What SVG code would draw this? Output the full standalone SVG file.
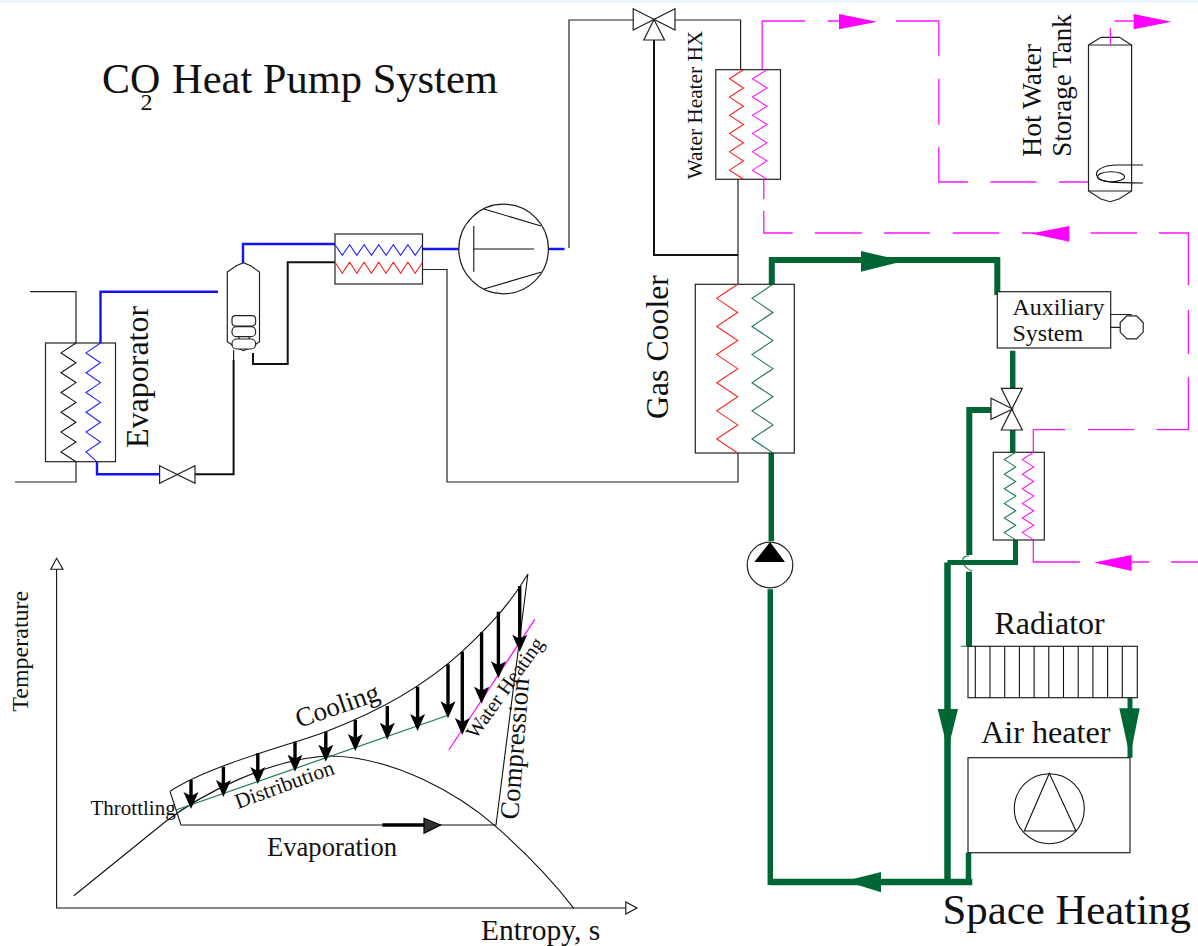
<svg xmlns="http://www.w3.org/2000/svg" width="1198" height="946" viewBox="0 0 1198 946">
<style>
text{font-family:"Liberation Serif","Times New Roman",serif;fill:#111}
.l{fill:none;stroke:#222;stroke-width:1.2}
.s{fill:#fff;stroke:#222;stroke-width:1.2}
.k{fill:none;stroke:#111;stroke-width:2}
.b{fill:none;stroke:#1414f5;stroke-width:2.4}
.bz{fill:none;stroke:#2222ff;stroke-width:1.1}
.r{fill:none;stroke:#ff2222;stroke-width:1.1}
.gz{fill:none;stroke:#1a7a4c;stroke-width:1.1}
.m{fill:none;stroke:#ff14ff;stroke-width:1.3}
.mf{fill:#ff00ff;stroke:none}
.g{fill:none;stroke:#006633;stroke-width:6}
.gf{fill:#006633;stroke:none}
.t{fill:none;stroke:#111;stroke-width:1.1}
.da{fill:none;stroke:#000;stroke-width:3.4;marker-end:url(#head)}
</style>
<defs>
<marker id="head" markerUnits="userSpaceOnUse" markerWidth="20" markerHeight="18" refX="8" refY="8" orient="auto">
<polygon points="17,8 0,0.5 4,8 0,15.5" fill="#000"/>
</marker>
</defs>
<rect width="1198" height="946" fill="#fff"/>
<rect width="1198" height="3" fill="#eef4fc"/>

<g id="title"><text x="102" y="93.3" font-size="42">CO</text><text x="140.5" y="110" font-size="24">2</text><text x="172" y="93.3" font-size="42.500">Heat Pump System</text></g>

<g id="connectors">
<path class="l" d="M30 291.7H76V343M15 482H76V461.7"/>
<path class="b" d="M100.500 343V291.700H218"/>
<path class="b" d="M97 460V474.300H160"/>
<path class="k" d="M195 474.300H233.600V360"/>
<path class="l" d="M233.600 360V350"/>
<path class="b" d="M243 263V244H335"/>
<path class="k" d="M253 353V364H287.700V262.300H335"/>
<path class="b" d="M422.500 249H459M548 249H564.500"/>
<path class="l" d="M422.500 269.500H447V482H738V453"/>
<path class="l" d="M569 248V20H633M675 20H740.600V69.700"/>
<path class="k" d="M654 40V255H738"/>
<path class="l" d="M738 179.300V284.300"/>
<path class="m" d="M762.200 69.700V21H805M827.700 21H840M896 21H938.800V55.700M938.800 78.700V125M938.800 146.700V182H968M990.400 182H1036.400M1059 182H1088.500"/>
<path class="m" d="M1110.400 45V28M1114.500 21H1134"/>
<path class="m" d="M763.800 179.300V199.300M763.800 210.700V233H792.700M815 233H862M884 233H930M952.600 233H999.400M1021.800 233H1035M1090.500 233H1137M1159 233H1188.400V285.300M1188.400 310V354M1188.400 377.300V429.700H1156.700M1134 429.700H1088M1065 429.700H1033.300V452.300"/>
<path class="m" d="M1033.300 540V562H1080M1131.700 562H1149M1171 562H1198"/>
<polygon class="mf" points="839,14 877,21.700 839,29.300"/>
<polygon class="mf" points="1133.600,14 1171.500,21.700 1133.600,29.300"/>
<polygon class="mf" points="1069.400,226 1031,233.500 1069.400,241.700"/>
<polygon class="mf" points="1131.700,555 1094,562.500 1131.700,571"/>
<path class="g" d="M771.800 284.300V260H997.300V295"/>
<polygon class="gf" points="861,251 904,261 861,271.700"/>
<path class="g" style="stroke-width:5.500" d="M1012.700 350.700V388.300M1012.700 430V452.300"/>
<path class="g" d="M991 410H969.300V555M969 571.700V646.300"/>
<path class="gz" d="M960.700 646.300H969M969 556C960 555 960 566 972 571"/>
<path class="g" style="stroke-width:5" d="M1015.500 540V562.500H947.500"/>
<path class="g" style="stroke-width:6.500" d="M947.500 562.500V882"/>
<polygon class="gf" points="937.700,709 958,709 947.800,750"/>
<path class="g" style="stroke-width:6.500" d="M972.300 882H770.300"/>
<path class="g" style="stroke-width:5.500" d="M771.300 453V541M770.300 589.300V885M968.500 852.700V882"/>
<polygon class="gf" points="845,881 881,872 881,892.300"/>
<path class="g" style="stroke-width:5" d="M1130 697.700V757.700"/>
<polygon class="gf" points="1119.300,708.300 1139.700,708.300 1130,757"/>
</g>

<g id="evaporator">
<rect class="s" x="45.500" y="343" width="70" height="118.700"/>
<path class="t" d="M76 343l-15 9.900 15 9.900-15 9.900 15 9.900-15 9.900 15 9.900-15 9.900 15 9.900-15 9.900 15 9.900-15 9.900 15 9.900"/>
<path class="bz" d="M100.500 343l-14.500 9.900 14.500 9.900-14.500 9.900 14.500 9.900-14.500 9.900 14.500 9.900-14.500 9.900 14.500 9.900-14.500 9.900 14.500 9.900-14.500 9.900 11 9.900"/>
<text transform="translate(148 448) rotate(-90)" font-size="32">Evaporator</text>
</g>

<g id="expansion-valve"><path class="s" d="M159.600 465.700L195 483.300V465.700L159.600 483.300Z"/></g>

<g id="separator">
<path class="s" d="M227.300 272L236 266 243.400 262.700 251 266 259.500 272V341.700L251 347.500 243.400 350.700 236 347.500 227.300 341.700Z"/>
<rect class="s" x="239" y="322" width="10" height="24"/>
<rect class="s" x="232" y="315.700" width="23.600" height="10.300" rx="3.500"/>
<rect class="s" x="232" y="326.700" width="23.600" height="10" rx="4.500"/>
<rect class="s" x="232" y="339" width="23.600" height="10" rx="4.500"/>
</g>

<g id="internal-hx">
<rect class="s" x="335" y="234" width="87.500" height="50"/>
<path class="bz" d="M335 244.700l7.290 10.600 7.290-10.600 7.290 10.600 7.290-10.600 7.290 10.600 7.290-10.600 7.290 10.600 7.290-10.600 7.290 10.600 7.290-10.600 7.290 10.600 7.290-10.600"/>
<path class="r" d="M335 262.300l7.290 11 7.290-11 7.290 11 7.290-11 7.290 11 7.290-11 7.290 11 7.290-11 7.290 11 7.290-11 7.290 11 7.290-11"/>
</g>

<g id="compressor">
<circle class="s" cx="503.600" cy="249" r="44.800"/>
<path class="t" d="M473.800 226V271.700M474 249H534M484 289L540.800 272.300M484 209L541 226"/>
</g>

<g id="three-way-valve-top">
<path class="s" d="M633.200 8.700L675 30V8.700L633.200 30Z"/>
<path class="s" d="M654 19.500L643.800 40H664.500Z"/>
</g>

<g id="water-heater-hx">
<rect class="s" x="715.800" y="69.700" width="64.700" height="109.600"/>
<path class="r" d="M743.500 69.700l-14 9.130 14 9.130-14 9.130 14 9.130-14 9.130 14 9.130-14 9.130 14 9.130-14 9.130 14 9.130-14 9.130 14 9.130"/>
<path class="m" style="stroke-width:1.100" d="M767 69.700l-14.600 9.130 14.600 9.130-14.600 9.130 14.600 9.130-14.600 9.130 14.600 9.130-14.600 9.130 14.600 9.130-14.600 9.130 14.600 9.130-14.600 9.130 14.600 9.130"/>
<text transform="translate(702.400 179.300) rotate(-90)" font-size="21.300">Water Heater HX</text>
</g>

<g id="storage-tank">
<path class="s" d="M1088.500 45L1101 37.300H1119.400L1131.600 45V191L1119 199 1110 201.700 1101 199 1088.500 191Z"/>
<path class="l" d="M1088.500 45H1131.600M1088.500 191H1131.600"/>
<path class="m" d="M1110.400 45V37"/>
<path class="t" d="M1143 165H1118C1100 165 1094 172 1097.500 177 1100 182 1112 183 1143 183"/>
<ellipse class="t" cx="1111" cy="176.700" rx="13.500" ry="5"/>
<text transform="translate(1041 156.700) rotate(-90)" font-size="27.500">Hot Water</text>
<text transform="translate(1070.600 156.700) rotate(-90)" font-size="27">Storage Tank</text>
</g>

<g id="gas-cooler">
<rect class="s" x="695.300" y="284.300" width="99" height="168.700"/>
<path class="r" d="M737.700 284.300l-21 14.060 21 14.060-21 14.060 21 14.060-21 14.060 21 14.060-21 14.060 21 14.060-21 14.060 21 14.060-21 14.060 21 14.060"/>
<path class="gz" d="M773 284.300l-21 14.060 21 14.060-21 14.060 21 14.060-21 14.060 21 14.060-21 14.060 21 14.060-21 14.060 21 14.060-21 14.060 21 14.060"/>
<text transform="translate(668.300 419) rotate(-90)" font-size="31.800">Gas Cooler</text>
</g>

<g id="auxiliary-system">
<rect class="s" x="997.300" y="291.700" width="113.400" height="56.300"/>
<path class="l" d="M1110.700 314.500H1131.700M1110.700 327.300H1120.200"/>
<polygon class="s" points="1143.200,322.500 1143.200,332.100 1136.500,338.800 1126.900,338.800 1120.200,332.100 1120.200,322.500 1126.900,315.800 1136.500,315.800"/>
<text x="1012.500" y="315" font-size="24">Auxiliary</text>
<text x="1012.500" y="341" font-size="24">System</text>
</g>

<g id="three-way-valve-bottom">
<path class="s" d="M1001.300 388.300H1022.300L1001.300 430H1022.300Z"/>
<path class="s" d="M1012.700 409L991 398.300V419.300Z"/>
</g>

<g id="space-hx">
<rect class="s" x="993.300" y="452.300" width="51" height="87.700"/>
<path class="gz" d="M1015.700 452.300l-11.400 7.300 11.400 7.300-11.400 7.300 11.400 7.300-11.400 7.300 11.400 7.300-11.400 7.300 11.400 7.300-11.400 7.300 11.400 7.300-11.400 7.300 11.400 7.300"/>
<path class="m" style="stroke-width:1.100" d="M1033.700 452.300l-11.400 7.300 11.400 7.300-11.400 7.300 11.400 7.300-11.400 7.300 11.400 7.300-11.400 7.300 11.400 7.300-11.400 7.300 11.400 7.300-11.400 7.300 11.400 7.300"/>
</g>

<g id="pump">
<circle class="s" cx="770" cy="565" r="22.800"/>
<polygon fill="#000" points="770,542 754.300,562 785,562"/>
</g>

<g id="radiator">
<rect class="s" x="968" y="646.300" width="169.300" height="51.400"/>
<path class="t" d="M975.300 646.300V697.700M990 646.300V697.700M1004.700 646.300V697.700M1019.400 646.300V697.700M1034.100 646.300V697.700M1048.800 646.300V697.700M1063.500 646.300V697.700M1078.200 646.300V697.700M1092.900 646.300V697.700M1107.600 646.300V697.700M1122.300 646.300V697.700"/>
<text x="994.500" y="634" font-size="32">Radiator</text>
</g>

<g id="air-heater">
<rect class="s" x="968" y="757.700" width="162" height="95"/>
<circle class="t" cx="1049.300" cy="808.700" r="35"/>
<polygon class="t" points="1049.300,773.300 1024.300,831 1076,831"/>
<text x="981" y="743.300" font-size="32.200">Air heater</text>
</g>
<g id="space-heating-label"><text x="942.500" y="924.300" font-size="42.800">Space Heating</text></g>

<g id="ts-chart">
<path class="t" d="M56.600 569.300V908H625.800"/>
<polygon class="t" style="fill:#fff" points="50.800,569.300 63,569.300 56.600,558.300"/>
<polygon class="t" style="fill:#fff" points="625.800,902 625.800,914 637,908"/>
<path class="t" d="M73.800 895.700L165 822C200 795 270 758 330 756C395 757 460 795 496 826.700C525 852 552 880 573.800 908.300"/>
<path class="t" d="M170 791.300L181 825H496L527.900 574C510 605 485 630 462 651.700C420 690 370 715 325.800 731.700C290 745 210 765 170 791.300"/>
<path d="M176 810L448.800 715" fill="none" stroke="#1a7a4c" stroke-width="1.200"/>
<path d="M448.800 750L534.800 619.300" fill="none" stroke="#ff14ff" stroke-width="1.300"/>
<path class="da" d="M191 780V800"/>
<path class="da" d="M223.400 766.700V788"/>
<path class="da" d="M257.800 753.300V775"/>
<path class="da" d="M295 741.700V762.700"/>
<path class="da" d="M325.800 731.700V752.700"/>
<path class="da" d="M355.300 720V742"/>
<path class="da" d="M387.300 706V730.700"/>
<path class="da" d="M417.600 686.700V722"/>
<path class="da" d="M448 664.300V709.300"/>
<path class="da" d="M462.300 651.700V726"/>
<path class="da" d="M481.600 632.300V694.700"/>
<path class="da" d="M498.400 611.700V669.300"/>
<path class="da" d="M519.700 586V642.700"/>
<path d="M382.400 825H424" fill="none" stroke="#000" stroke-width="3.600"/>
<polygon points="424,818.300 440.600,825 424,833.300" fill="#333" stroke="#000" stroke-width="1.200"/>
<text transform="translate(27.900 711.700) rotate(-90)" font-size="24">Temperature</text>
<text x="481" y="940" font-size="29.500">Entropy, s</text>
<text x="267" y="856" font-size="26.600">Evaporation</text>
<text x="90.500" y="815" font-size="21">Throttling</text>
<text transform="translate(299 728) rotate(-19)" font-size="27">Cooling</text>
<text transform="translate(238 809) rotate(-20)" font-size="21.500">Distribution</text>
<text transform="translate(476 740) rotate(-54.600)" font-size="20.500">Water Heating</text>
<text transform="translate(518 820) rotate(-85.500)" font-size="26.800">Compression</text>
</g>
</svg>
